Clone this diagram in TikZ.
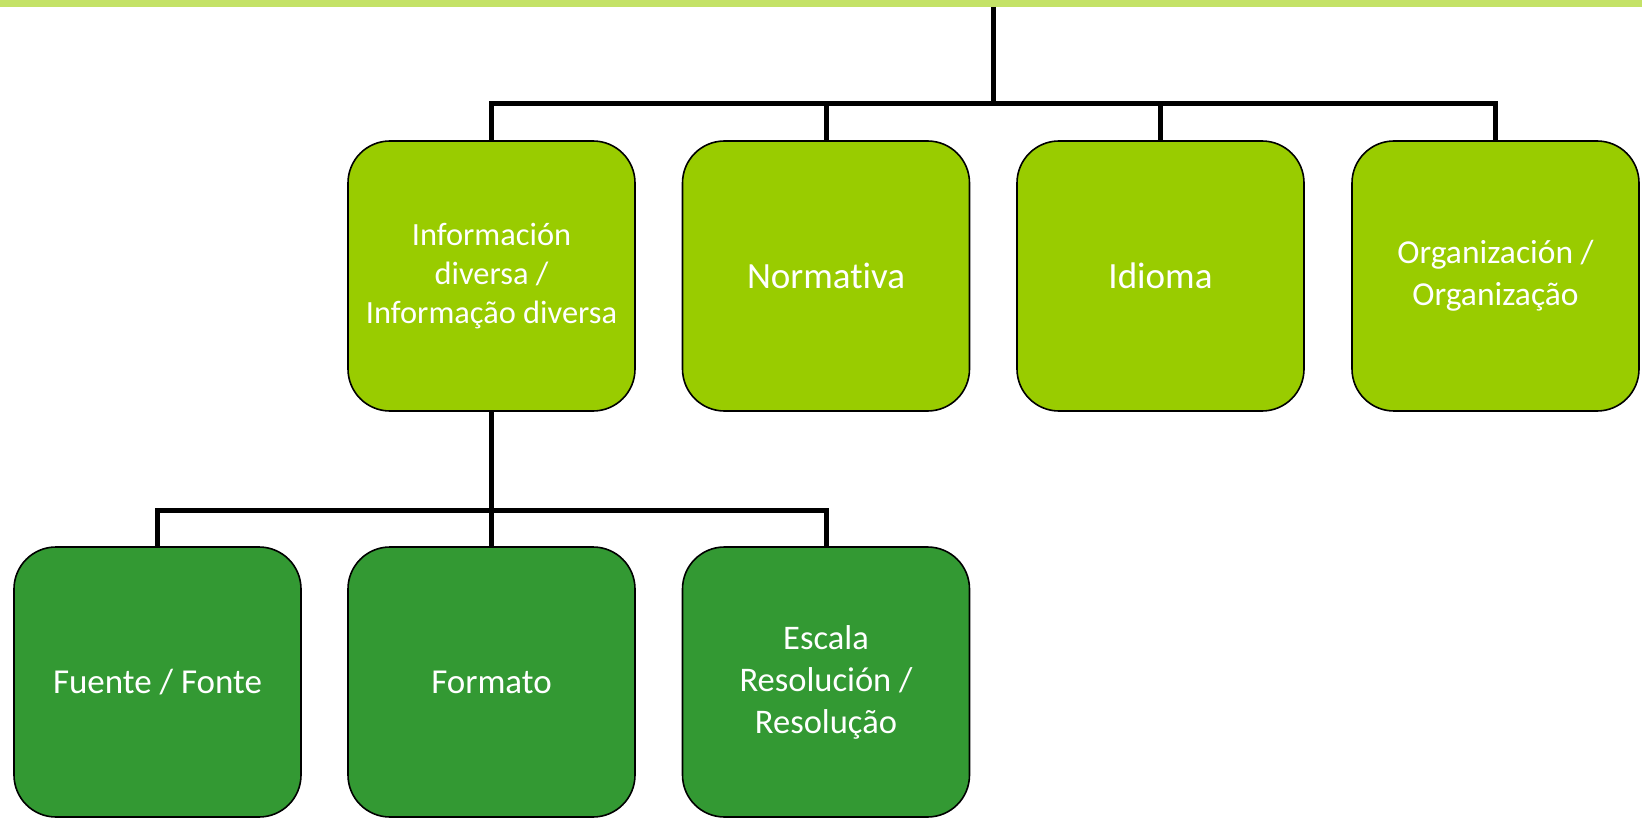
\documentclass[tikz,border=0pt]{standalone}
\usepackage{fontspec}
\setmainfont{Carlito}[Ligatures = NoCommon]
\usepackage{tikz}
\usetikzlibrary{positioning}
\definecolor{lightgreen}{HTML}{99CC00}
\definecolor{darkgreen}{HTML}{339933}
\definecolor{topbar}{HTML}{C4E267}
\tikzset{
  box/.style = {rectangle, rounded corners = 42pt, draw = black, line width = 1.6pt,
    minimum width = 287pt, minimum height = 270pt, inner sep = 0, align = center,
    text = white, font = \fontsize{32.4pt}{39pt}\selectfont},
  upper/.style = {box, fill = lightgreen},
  lower/.style = {box, fill = darkgreen},
  conn/.style = {-, draw = black, line width = 5pt}
}

\begin{document}
\begin{tikzpicture}[x=1pt, y=-1pt]
\useasboundingbox (0,0) rectangle (1642,818);
\fill [topbar] (0,0) rectangle (1642,7);
\coordinate (root) at (993, 7);
\coordinate (bus) at (0, 104);
\coordinate (subbus) at (0, 510);
% first level
\node [upper] (info) at (491.5, 276) {Información\\diversa /\\Informação diversa};
\node [upper, font = \fontsize{37pt}{44pt}\selectfont] (norm) at (826, 276) {Normativa};
\node [upper, font = \fontsize{37pt}{44pt}\selectfont] (idioma) at (1160.5, 276) {Idioma};
\node [upper, font = \fontsize{33.5pt}{42pt}\selectfont] (org) at (1495.5, 276) {Organización /\\Organização};
% second level
\node [lower, font = \fontsize{35pt}{42pt}\selectfont] (fuente) at (157.5, 682) {Fuente / Fonte};
\node [lower, font = \fontsize{35pt}{42pt}\selectfont] (formato) at (491.5, 682) {Formato};
\node [lower, font = \fontsize{34.5pt}{42pt}\selectfont] (escala) at (826, 682) {Escala\\Resolución /\\Resolução};
% connectors
\draw [conn] (root) -- (root |- bus);
\draw [conn] (info.north) -- (info.north |- bus) -| (org.north);
\draw [conn] (norm.north) -- (norm.north |- bus);
\draw [conn] (idioma.north) -- (idioma.north |- bus);
\draw [conn] (info.south) -- (info.south |- subbus);
\draw [conn] (fuente.north) -- (fuente.north |- subbus) -| (escala.north);
\draw [conn] (formato.north) -- (formato.north |- subbus);
\end{tikzpicture}
\end{document}
